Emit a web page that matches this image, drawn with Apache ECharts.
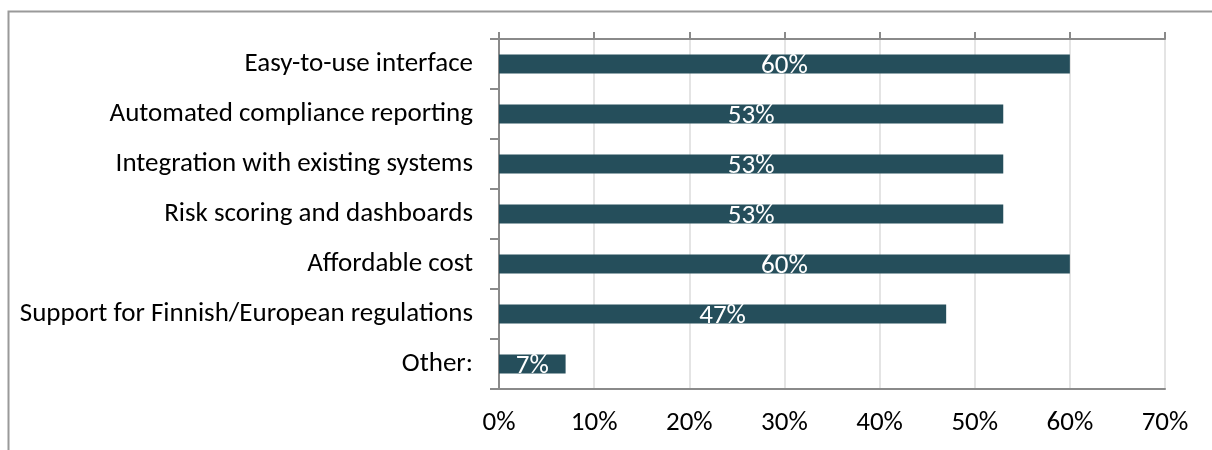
<!DOCTYPE html>
<html>
<head>
<meta charset="utf-8">
<script src="https://cdn.jsdelivr.net/npm/echarts@6/dist/echarts.min.js"></script>
<style>
  html, body { margin: 0; padding: 0; background: #ffffff; }
  #chart { width: 1212px; height: 450px; }
</style>
</head>
<body>
<div id="chart"></div>
<script>
// Survey: features respondents value most (share of respondents, %)
const categories = [
  'Easy-to-use interface',
  'Automated compliance reporting',
  'Integration with existing systems',
  'Risk scoring and dashboards',
  'Affordable cost',
  'Support for Finnish/European regulations',
  'Other:'
];
const shares = [60, 53, 53, 53, 60, 47, 7];
const axisTicks = [0, 10, 20, 30, 40, 50, 60, 70];

const FONT = 'Carlito, "Open Sans", "Liberation Sans", sans-serif';
const FONT_SIZE = 27;
const AXIS_GRAY = '#8a8a8a';
const BAR_COLOR = '#254e5b';

const chart = echarts.init(document.getElementById('chart'), null, { renderer: 'canvas' });

chart.setOption({
  animation: false,
  backgroundColor: '#ffffff',
  textStyle: { fontFamily: FONT },
  graphic: [{
    // outer chart frame
    type: 'rect',
    left: 6, top: 9,
    shape: { width: 1300, height: 500 },
    style: { fill: 'none', stroke: '#9a9a9a', lineWidth: 2 },
    silent: true,
    z: 0
  }],
  grid: { left: 499, top: 39, right: 47, bottom: 61, containLabel: false },
  xAxis: [{
    type: 'value',
    position: 'bottom',
    min: axisTicks[0],
    max: axisTicks[axisTicks.length - 1],
    interval: 10,
    axisLine: { show: true, onZero: false, lineStyle: { color: AXIS_GRAY, width: 2 } },
    axisTick: { show: false },
    axisLabel: {
      margin: 21,
      color: '#000000',
      fontSize: FONT_SIZE,
      fontFamily: FONT,
      formatter: v => v + '%'
    },
    splitLine: { show: true, lineStyle: { color: '#e4e4e4', width: 2 } }
  }, {
    type: 'value',
    position: 'top',
    min: axisTicks[0],
    max: axisTicks[axisTicks.length - 1],
    interval: 10,
    axisLine: { show: true, onZero: false, lineStyle: { color: AXIS_GRAY, width: 2 } },
    axisTick: { show: true, inside: false, length: 7, lineStyle: { color: AXIS_GRAY, width: 2 } },
    axisLabel: { show: false },
    splitLine: { show: false }
  }],
  yAxis: [{
    type: 'category',
    data: categories,
    inverse: true,
    position: 'left',
    axisLine: { show: true, lineStyle: { color: AXIS_GRAY, width: 2 } },
    axisTick: { show: true, inside: false, length: 9, alignWithLabel: false, lineStyle: { color: AXIS_GRAY, width: 2 } },
    axisLabel: { margin: 26, padding: [4, 0, 0, 0], color: '#000000', fontSize: FONT_SIZE, fontFamily: FONT },
    splitLine: { show: false }
  }, {
    type: 'category',
    data: categories,
    inverse: true,
    position: 'right',
    axisLine: { show: true, lineStyle: { color: AXIS_GRAY, width: 2 } },
    axisTick: { show: false },
    axisLabel: { show: false },
    splitLine: { show: false }
  }],
  series: [{
    type: 'bar',
    data: shares,
    xAxisIndex: 0,
    yAxisIndex: 0,
    barWidth: '38%',
    itemStyle: { color: BAR_COLOR },
    label: {
      show: true,
      position: 'inside',
      offset: [0, 2],
      color: '#ffffff',
      fontSize: FONT_SIZE,
      fontFamily: FONT,
      formatter: p => p.value + '%'
    },
    z: 3
  }]
});
</script>
</body>
</html>
